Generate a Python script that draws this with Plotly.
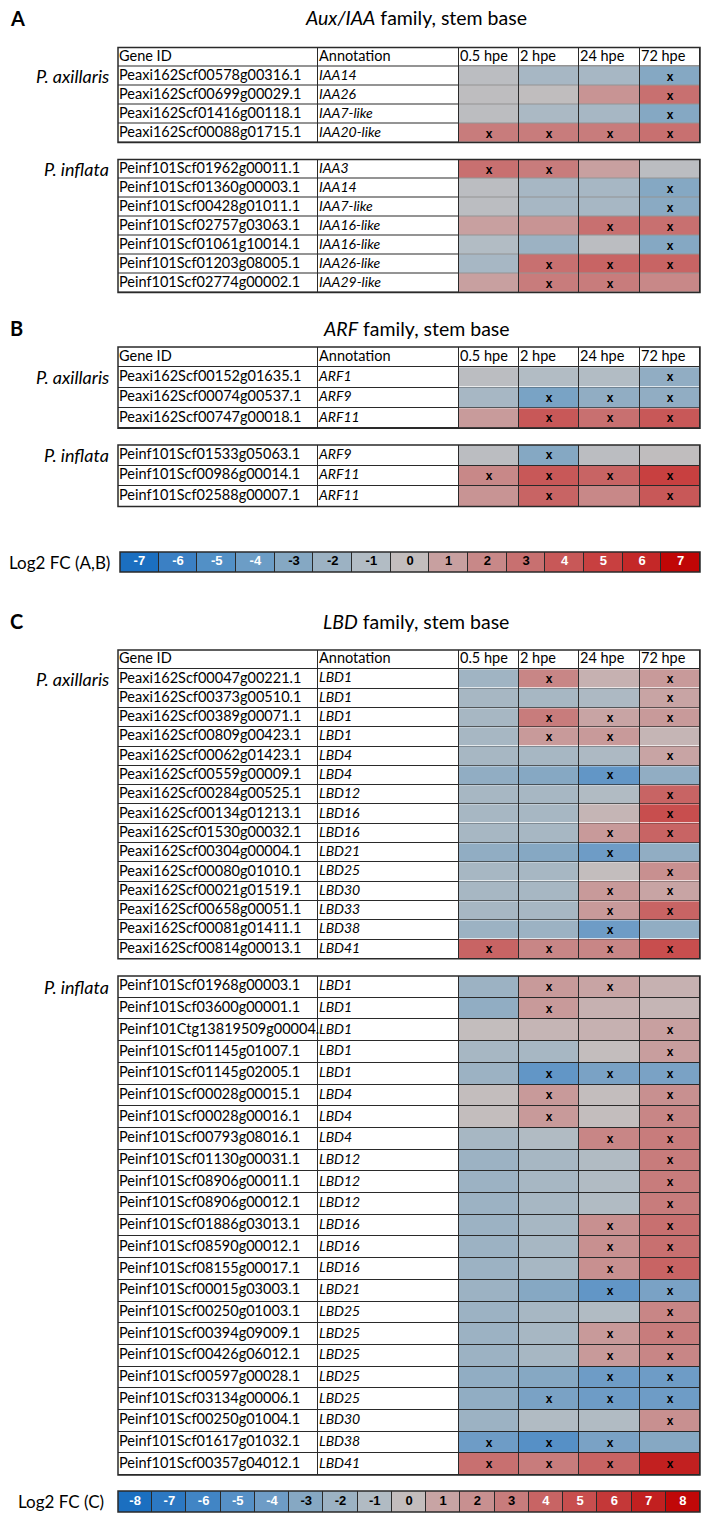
import plotly.graph_objects as go

W, H = 708, 1517

times = ["0.5 hpe", "2 hpe", "24 hpe", "72 hpe"]
header = ["Gene ID", "Annotation"] + times

# ---------------- Panel A: Aux/IAA ----------------
a_pax_ids = ["Peaxi162Scf00578g00316.1", "Peaxi162Scf00699g00029.1",
             "Peaxi162Scf01416g00118.1", "Peaxi162Scf00088g01715.1"]
a_pax_ann = ["IAA14", "IAA26", "IAA7-like", "IAA20-like"]
a_pax_val = [[-0.5, -1.5, -1.5, -3.0],
             [-0.3, -0.2, 1.5, 3.0],
             [-0.4, -1.3, -1.5, -3.0],
             [2.5, 2.5, 2.5, 3.0]]
a_pax_sig = [[0, 0, 0, 1], [0, 0, 0, 1], [0, 0, 0, 1], [1, 1, 1, 1]]

a_pin_ids = ["Peinf101Scf01962g00011.1", "Peinf101Scf01360g00003.1",
             "Peinf101Scf00428g01011.1", "Peinf101Scf02757g03063.1",
             "Peinf101Scf01061g10014.1", "Peinf101Scf01203g08005.1",
             "Peinf101Scf02774g00002.1"]
a_pin_ann = ["IAA3", "IAA14", "IAA7-like", "IAA16-like", "IAA16-like",
             "IAA26-like", "IAA29-like"]
a_pin_val = [[3.0, 2.5, 1.0, -0.5],
             [-0.5, -1.5, -1.5, -3.0],
             [-0.5, -1.5, -1.5, -2.8],
             [1.0, 1.5, 3.0, 3.0],
             [-1.0, -2.0, -0.5, -3.0],
             [-1.5, 3.0, 3.5, 3.5],
             [1.0, 2.5, 2.5, 2.0]]
a_pin_sig = [[1, 1, 0, 0], [0, 0, 0, 1], [0, 0, 0, 1], [0, 0, 1, 1],
             [0, 0, 0, 1], [0, 1, 1, 1], [0, 1, 1, 0]]

# ---------------- Panel B: ARF ----------------
b_pax_ids = ["Peaxi162Scf00152g01635.1", "Peaxi162Scf00074g00537.1",
             "Peaxi162Scf00747g00018.1"]
b_pax_ann = ["ARF1", "ARF9", "ARF11"]
b_pax_val = [[-0.5, -1.0, -1.0, -2.5],
             [-1.5, -3.5, -2.5, -2.5],
             [1.2, 4.0, 3.0, 4.0]]
b_pax_sig = [[0, 0, 0, 1], [0, 1, 1, 1], [0, 1, 1, 1]]

b_pin_ids = ["Peinf101Scf01533g05063.1", "Peinf101Scf00986g00014.1",
             "Peinf101Scf02588g00007.1"]
b_pin_ann = ["ARF9", "ARF11", "ARF11"]
b_pin_val = [[-0.5, -3.0, -0.5, -0.2],
             [2.0, 4.0, 3.5, 5.0],
             [1.5, 3.5, 2.0, 4.0]]
b_pin_sig = [[0, 1, 0, 0], [1, 1, 1, 1], [0, 1, 0, 1]]

# ---------------- Panel C: LBD ----------------
c_pax_ids = ["Peaxi162Scf00047g00221.1", "Peaxi162Scf00373g00510.1",
             "Peaxi162Scf00389g00071.1", "Peaxi162Scf00809g00423.1",
             "Peaxi162Scf00062g01423.1", "Peaxi162Scf00559g00009.1",
             "Peaxi162Scf00284g00525.1", "Peaxi162Scf00134g01213.1",
             "Peaxi162Scf01530g00032.1", "Peaxi162Scf00304g00004.1",
             "Peaxi162Scf00080g01010.1", "Peaxi162Scf00021g01519.1",
             "Peaxi162Scf00658g00051.1", "Peaxi162Scf00081g01411.1",
             "Peaxi162Scf00814g00013.1"]
c_pax_ann = ["LBD1", "LBD1", "LBD1", "LBD1", "LBD4", "LBD4", "LBD12", "LBD16",
             "LBD16", "LBD21", "LBD25", "LBD30", "LBD33", "LBD38", "LBD41"]
c_pax_val = [[-1.8, 2.5, 0.5, 1.5],
             [-1.5, -1.5, -1.2, 1.0],
             [-1.5, 3.0, 1.0, 1.5],
             [-1.5, 1.5, 1.5, 0.3],
             [-1.5, -1.5, -1.2, 1.0],
             [-2.5, -3.0, -4.5, -2.5],
             [-1.5, -1.5, -1.0, 4.0],
             [-1.5, -1.5, 0.3, 5.0],
             [-1.5, -1.5, 1.5, 4.0],
             [-2.5, -3.0, -4.0, -2.5],
             [-1.5, -1.5, 0.0, 2.0],
             [-1.5, -1.5, 1.5, 1.0],
             [-1.5, -1.5, 1.5, 4.0],
             [-2.0, -2.0, -4.0, -2.5],
             [4.0, 2.5, 2.5, 5.0]]
c_pax_sig = [[0, 1, 0, 1], [0, 0, 0, 1], [0, 1, 1, 1], [0, 1, 1, 0],
             [0, 0, 0, 1], [0, 0, 1, 0], [0, 0, 0, 1], [0, 0, 0, 1],
             [0, 0, 1, 1], [0, 0, 1, 0], [0, 0, 0, 1], [0, 0, 1, 1],
             [0, 0, 1, 1], [0, 0, 1, 0], [1, 1, 1, 1]]

c_pin_ids = ["Peinf101Scf01968g00003.1", "Peinf101Scf03600g00001.1",
             "Peinf101Ctg13819509g00004.", "Peinf101Scf01145g01007.1",
             "Peinf101Scf01145g02005.1", "Peinf101Scf00028g00015.1",
             "Peinf101Scf00028g00016.1", "Peinf101Scf00793g08016.1",
             "Peinf101Scf01130g00031.1", "Peinf101Scf08906g00011.1",
             "Peinf101Scf08906g00012.1", "Peinf101Scf01886g03013.1",
             "Peinf101Scf08590g00012.1", "Peinf101Scf08155g00017.1",
             "Peinf101Scf00015g03003.1", "Peinf101Scf00250g01003.1",
             "Peinf101Scf00394g09009.1", "Peinf101Scf00426g06012.1",
             "Peinf101Scf00597g00028.1", "Peinf101Scf03134g00006.1",
             "Peinf101Scf00250g01004.1", "Peinf101Scf01617g01032.1",
             "Peinf101Scf00357g04012.1"]
c_pin_ann = ["LBD1", "LBD1", "LBD1", "LBD1", "LBD1", "LBD4", "LBD4", "LBD4",
             "LBD12", "LBD12", "LBD12", "LBD16", "LBD16", "LBD16", "LBD21",
             "LBD25", "LBD25", "LBD25", "LBD25", "LBD25", "LBD30", "LBD38",
             "LBD41"]
c_pin_val = [[-2.0, 1.5, 1.0, 0.5],
             [-2.5, 1.5, 0.5, 0.3],
             [0.0, 0.3, 0.5, 1.2],
             [-1.5, -1.5, 0.0, 1.3],
             [-2.0, -4.5, -3.5, -3.5],
             [0.0, 1.5, 0.0, 2.0],
             [0.0, 1.5, 0.0, 2.5],
             [-1.5, -1.0, 2.5, 3.0],
             [-2.0, -1.5, -1.0, 3.0],
             [-2.0, -1.5, -1.0, 3.0],
             [-2.0, -1.5, -1.0, 3.0],
             [-2.0, -1.5, 2.0, 3.5],
             [-2.0, -1.5, 2.0, 3.5],
             [-2.0, -1.5, 2.0, 4.0],
             [-2.0, -3.0, -4.5, -3.5],
             [-2.0, -1.5, -1.0, 2.5],
             [-2.0, -1.5, 1.5, 3.0],
             [-2.0, -1.5, 1.5, 2.5],
             [-2.5, -3.0, -4.0, -4.0],
             [-2.5, -3.5, -4.0, -4.0],
             [-2.0, -1.0, -1.0, 2.0],
             [-4.0, -5.0, -3.5, -3.0],
             [3.5, 3.0, 4.0, 7.0]]
c_pin_sig = [[0, 1, 1, 0], [0, 1, 0, 0], [0, 0, 0, 1], [0, 0, 0, 1],
             [0, 1, 1, 1], [0, 1, 0, 1], [0, 1, 0, 1], [0, 0, 1, 1],
             [0, 0, 0, 1], [0, 0, 0, 1], [0, 0, 0, 1], [0, 0, 1, 1],
             [0, 0, 1, 1], [0, 0, 1, 1], [0, 0, 1, 1], [0, 0, 0, 1],
             [0, 0, 1, 1], [0, 0, 1, 1], [0, 0, 1, 1], [0, 1, 1, 1],
             [0, 0, 0, 1], [1, 1, 1, 0], [1, 1, 1, 1]]

# ---------------- Colour legends ----------------
ab_levels = list(range(-7, 8))
ab_colors = ["#1b6fc0", "#3b80c4", "#5290c6", "#6c9dc6", "#85a8c3", "#9cb2c3",
             "#b2bcc4", "#c3bdbd", "#c8a0a0", "#c88888", "#c87070", "#c85858",
             "#c84040", "#c42828", "#c00606"]
c_levels = list(range(-8, 9))
c_colors = ["#1b6fc0", "#2c78c2", "#4185c5", "#5690c6", "#6e9cc6", "#86a8c3",
            "#9cb2c3", "#b1bbc3", "#c3bdbd", "#c8a4a4", "#c89090", "#c87c7c",
            "#c86464", "#c84e4e", "#c43838", "#c22020", "#c00808"]


def make_scale(levels, colors):
    lo, hi = levels[0], levels[-1]
    return [[(v - lo) / (hi - lo), c] for v, c in zip(levels, colors)]


ab_scale = make_scale(ab_levels, ab_colors)
c_scale = make_scale(c_levels, c_colors)

FONT = "Lato"
BORDER = "#2a2a2a"
col_w = [200, 141, 60, 60, 61, 60]
edges = [0]
for w in col_w:
    edges.append(edges[-1] + w)
TX0, TX1 = 118, 700

blocks = [
    dict(ids=a_pax_ids, ann=a_pax_ann, val=a_pax_val, sig=a_pax_sig, top=47.5, rh=19.0, hdr=True, lv=ab_levels, cs=ab_scale, sp="P. axillaris"),
    dict(ids=a_pin_ids, ann=a_pin_ann, val=a_pin_val, sig=a_pin_sig, top=159.5, rh=19.0, hdr=False, lv=ab_levels, cs=ab_scale, sp="P. inflata"),
    dict(ids=b_pax_ids, ann=b_pax_ann, val=b_pax_val, sig=b_pax_sig, top=347.0, rh=20.3, hdr=True, lv=ab_levels, cs=ab_scale, sp="P. axillaris"),
    dict(ids=b_pin_ids, ann=b_pin_ann, val=b_pin_val, sig=b_pin_sig, top=445.0, rh=20.5, hdr=False, lv=ab_levels, cs=ab_scale, sp="P. inflata"),
    dict(ids=c_pax_ids, ann=c_pax_ann, val=c_pax_val, sig=c_pax_sig, top=650.0, rh=19.3, hdr=True, lv=c_levels, cs=c_scale, sp="P. axillaris"),
    dict(ids=c_pin_ids, ann=c_pin_ann, val=c_pin_val, sig=c_pin_sig, top=976.0, rh=21.7, hdr=False, lv=c_levels, cs=c_scale, sp="P. inflata"),
]

fig = go.Figure()
layout_axes = {}
shapes = []
annotations = []


def ax_names(k):
    s = "" if k == 1 else str(k)
    return "x" + s, "y" + s, "xaxis" + s, "yaxis" + s


def hidden_axis(**kw):
    d = dict(showgrid=False, zeroline=False, showticklabels=False, ticks="",
             showline=False, fixedrange=True)
    d.update(kw)
    return d


k = 0
for b in blocks:
    k += 1
    xa, ya, xk, yk = ax_names(k)
    n = len(b["ids"])
    h0 = 1 if b["hdr"] else 0
    bottom = b["top"] + b["rh"] * (n + h0)
    layout_axes[xk] = hidden_axis(domain=[TX0 / W, TX1 / W], range=[0, edges[-1]], anchor=ya)
    layout_axes[yk] = hidden_axis(domain=[1 - bottom / H, 1 - b["top"] / H],
                                  range=[n - 0.5, -0.5 - h0], anchor=xa)
    rows_all = list(range(-h0, n))
    # white background cells (text columns and header)
    fig.add_trace(go.Heatmap(
        x=edges, y=rows_all, z=[[0] * len(col_w) for _ in rows_all],
        colorscale=[[0, "white"], [1, "white"]], showscale=False,
        xgap=1, ygap=1, hoverinfo="skip", xaxis=xa, yaxis=ya))
    # coloured expression cells
    fig.add_trace(go.Heatmap(
        x=edges[2:], y=list(range(n)), z=b["val"],
        zmin=b["lv"][0], zmax=b["lv"][-1], colorscale=b["cs"], showscale=False,
        text=[["x" if s else "" for s in row] for row in b["sig"]],
        texttemplate="<b>%{text}</b>", textfont=dict(family="Liberation Sans", size=12, color="black"),
        xgap=1, ygap=1, hoverinfo="skip", xaxis=xa, yaxis=ya))
    # gene ids
    fig.add_trace(go.Scatter(
        x=[edges[0] + 1] * n, y=list(range(n)), text=b["ids"], mode="text",
        textposition="middle right", textfont=dict(family=FONT, size=14.5, color="black"),
        hoverinfo="skip", showlegend=False, xaxis=xa, yaxis=ya))
    # annotations
    fig.add_trace(go.Scatter(
        x=[edges[1] + 1] * n, y=list(range(n)), text=["<i>" + a + "</i>" for a in b["ann"]],
        mode="text", textposition="middle right",
        textfont=dict(family=FONT, size=14, color="black"),
        hoverinfo="skip", showlegend=False, xaxis=xa, yaxis=ya))
    if b["hdr"]:
        fig.add_trace(go.Scatter(
            x=[e + 1 for e in edges[:-1]], y=[-1] * len(header), text=header,
            mode="text", textposition="middle right",
            textfont=dict(family=FONT, size=14.5, color="black"),
            hoverinfo="skip", showlegend=False, xaxis=xa, yaxis=ya))
    shapes.append(dict(type="rect", xref=xa + " domain", yref=ya + " domain",
                       x0=0, x1=1, y0=0, y1=1, line=dict(color=BORDER, width=1.5)))
    # species label aligned with first data row
    sp_y = b["top"] + b["rh"] * (h0 + 0.5)
    annotations.append(dict(text="<i>" + b["sp"] + "</i>", x=111 / W, y=1 - sp_y / H,
                            xref="paper", yref="paper", xanchor="right", yanchor="middle",
                            showarrow=False, font=dict(family=FONT, size=18, color="black")))

# colour legends
legends = [
    dict(levels=ab_levels, cs=ab_scale, label="Log2 FC (A,B)", top=552, bot=572, x0=120, x1=700, lx=112),
    dict(levels=c_levels, cs=c_scale, label="Log2 FC (C)", top=1491, bot=1512, x0=118, x1=700, lx=106),
]
for lg in legends:
    k += 1
    xa, ya, xk, yk = ax_names(k)
    m = len(lg["levels"])
    layout_axes[xk] = hidden_axis(domain=[lg["x0"] / W, lg["x1"] / W], range=[0, m], anchor=ya)
    layout_axes[yk] = hidden_axis(domain=[1 - lg["bot"] / H, 1 - lg["top"] / H],
                                  range=[-0.5, 0.5], anchor=xa)
    fig.add_trace(go.Heatmap(
        x=list(range(m + 1)), y=[0], z=[lg["levels"]],
        zmin=lg["levels"][0], zmax=lg["levels"][-1], colorscale=lg["cs"], showscale=False,
        xgap=1, ygap=0, hoverinfo="skip", xaxis=xa, yaxis=ya))
    fig.add_trace(go.Scatter(
        x=[i + 0.5 for i in range(m)], y=[0] * m, text=[str(v) for v in lg["levels"]],
        mode="text", textposition="middle center",
        textfont=dict(family="Liberation Sans", size=13, weight="bold",
                      color=["white" if abs(v) >= 4 else "black" for v in lg["levels"]]),
        hoverinfo="skip", showlegend=False, xaxis=xa, yaxis=ya))
    shapes.append(dict(type="rect", xref=xa + " domain", yref=ya + " domain",
                       x0=0, x1=1, y0=0, y1=1, line=dict(color=BORDER, width=1.5)))
    annotations.append(dict(text=lg["label"], x=lg["lx"] / W, y=1 - (lg["top"] + lg["bot"]) / 2 / H,
                            xref="paper", yref="paper", xanchor="right", yanchor="middle",
                            showarrow=False, font=dict(family=FONT, size=17, color="black")))

# panel letters and titles
panels = [("A", "<i>Aux/IAA</i> family, stem base", 18),
          ("B", "<i>ARF</i> family, stem base", 328),
          ("C", "<i>LBD</i> family, stem base", 621)]
for letter, title, py in panels:
    annotations.append(dict(text="<b>" + letter + "</b>", x=8 / W, y=1 - py / H, xref="paper", yref="paper",
                            xanchor="left", yanchor="middle", showarrow=False,
                            font=dict(family=FONT, size=20, color="black")))
    annotations.append(dict(text=title, x=416 / W, y=1 - py / H, xref="paper", yref="paper",
                            xanchor="center", yanchor="middle", showarrow=False,
                            font=dict(family=FONT, size=19.5, color="black")))

fig.update_layout(
    width=W, height=H, margin=dict(l=0, r=0, t=0, b=0),
    paper_bgcolor="white", plot_bgcolor=BORDER, showlegend=False,
    shapes=shapes, annotations=annotations, **layout_axes)

fig.write_html("out.html")
